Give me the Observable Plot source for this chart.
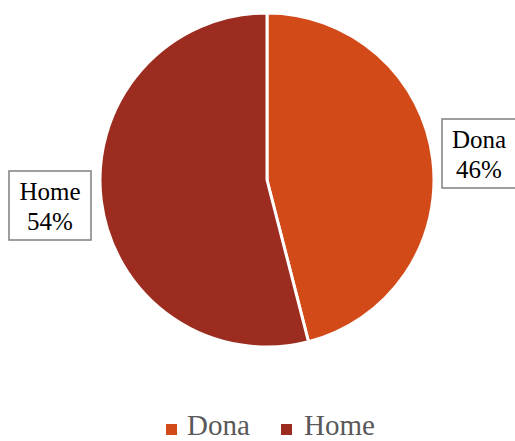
<!DOCTYPE html>
<html><head><meta charset="utf-8">
<script src="https://cdn.jsdelivr.net/npm/d3@7"></script>
<script src="https://cdn.jsdelivr.net/npm/@observablehq/plot@0.6"></script>
<style>body{margin:0;background:#fff} svg{display:block}</style>
</head><body><div id="chart"></div>
<script>
const categories = ["Dona", "Home"];
const values = [46, 54];
const labels = ["46%", "54%"];
const palette = ["#D34A19", "#9C2C1F"];

const data = categories.map((c, i) => ({category: c, value: values[i], label: labels[i]}));
const color = Plot.scale({color: {type: "ordinal", domain: categories, range: palette}});
const FONT = "'Liberation Serif','Times New Roman',serif";

function pieMark(index, scales, vals, dims) {
  const cx = 267, cy = 180, r = 167;
  const g = d3.create("svg:g");
  const arcs = d3.pie().sort(null).value(d => d.value)(data);
  const arc = d3.arc().innerRadius(0).outerRadius(r);
  g.append("g").attr("transform", `translate(${cx},${cy})`)
    .selectAll("path").data(arcs).join("path")
    .attr("d", arc)
    .attr("fill", d => color.apply(d.data.category))
    .attr("stroke", "#fff").attr("stroke-width", 3).attr("stroke-linejoin", "round");

  // data labels with boxes
  const boxes = [
    {x: 442, y: 119, w: 82, h: 69, tx: 479},
    {x: 9, y: 171, w: 82, h: 69, tx: 50}
  ];
  arcs.forEach((a, i) => {
    const b = boxes[i];
    const lg = g.append("g");
    lg.append("rect").attr("x", b.x).attr("y", b.y).attr("width", b.w).attr("height", b.h)
      .attr("fill", "#fff").attr("stroke", "#7F7F7F").attr("stroke-width", 1.5);
    lg.append("text").attr("x", b.tx).attr("y", b.y + 29).attr("text-anchor", "middle")
      .attr("font-family", FONT).attr("font-size", 25).attr("fill", "#000").text(a.data.category);
    lg.append("text").attr("x", b.tx).attr("y", b.y + 59).attr("text-anchor", "middle")
      .attr("font-family", FONT).attr("font-size", 25).attr("fill", "#000").text(a.data.label);
  });

  // legend
  const legendPos = [{sx: 166, tx: 187}, {sx: 281, tx: 304}];
  categories.forEach((c, i) => {
    const p = legendPos[i];
    g.append("rect").attr("x", p.sx).attr("y", 424).attr("width", 11).attr("height", 11)
      .attr("fill", color.apply(c));
    g.append("text").attr("x", p.tx).attr("y", 435).attr("text-anchor", "start")
      .attr("font-family", FONT).attr("font-size", 29).attr("fill", "#595959").text(c);
  });
  return g.node();
}

const chart = Plot.plot({
  width: 515,
  height: 441,
  margin: 0,
  x: {axis: null},
  y: {axis: null},
  style: {background: "#fff", overflow: "hidden"},
  marks: [pieMark]
});
document.getElementById("chart").appendChild(chart);
</script>
</body></html>
